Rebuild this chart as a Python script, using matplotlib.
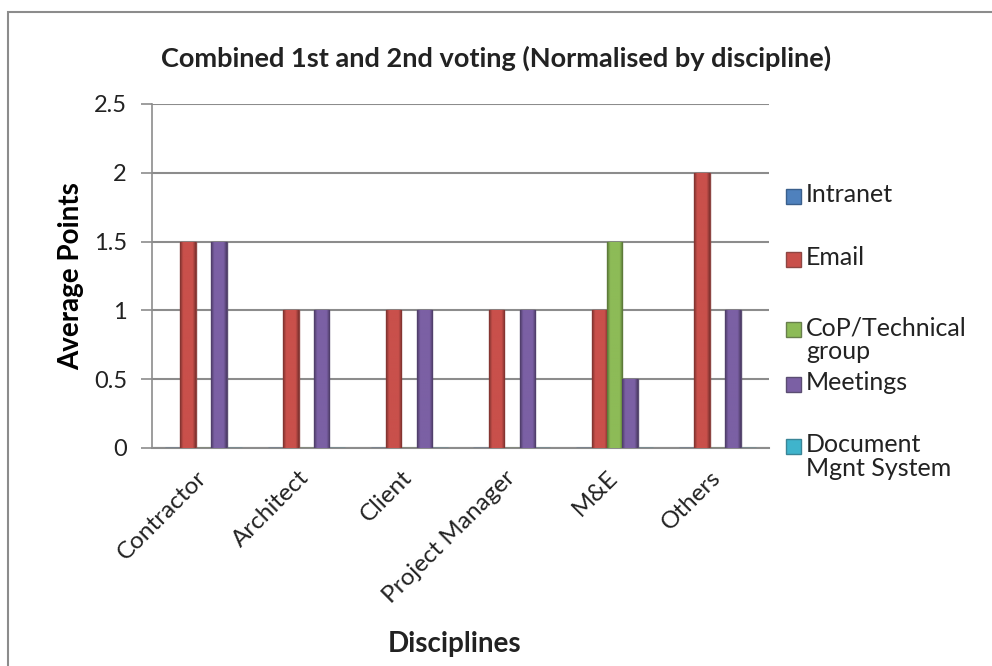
import numpy as np
import matplotlib
matplotlib.use("Agg")
import matplotlib.pyplot as plt
from matplotlib.colors import to_rgb
from matplotlib.patches import Rectangle
from matplotlib.transforms import ScaledTranslation

plt.rcParams['font.family'] = ['Lato', 'DejaVu Sans']

disciplines = ['Contractor', 'Architect', 'Client', 'Project Manager', 'M&E', 'Others']
series_names = ['Intranet', 'Email', 'CoP/Technical\ngroup', 'Meetings', 'Document\nMgnt System']
intranet = [0, 0, 0, 0, 0, 0]
email = [1.5, 1, 1, 1, 1, 2]
cop_group = [0, 0, 0, 0, 1.5, 0]
meetings = [1.5, 1, 1, 1, 0.5, 1]
doc_mgnt = [0, 0, 0, 0, 0, 0]
yticks = [0, 0.5, 1, 1.5, 2, 2.5]
ytick_labels = ['0', '0.5', '1', '1.5', '2', '2.5']

colors = ['#4F81BD', '#C9504B', '#8DBB57', '#7B60A4', '#3FB4CC']
edges = ['#3a5f8c', '#8e4643', '#687f4c', '#5b4d72', '#3a8597']


def shaded(color, n=40):
    # darker along both sides of the bar, flat in the middle
    t = np.linspace(0, 1, n)
    d = np.minimum(t, 1 - t)
    k = 0.62 + 0.38 * np.clip(d / 0.2, 0, 1)
    rgb = np.array(to_rgb(color))
    return (rgb[None, :] * k[:, None])[None, :, :]


fig = plt.figure(figsize=(9.92, 6.66), dpi=100)
fig.patch.set_facecolor('white')

# outer chart frame (runs off the right and bottom)
fig.patches.append(Rectangle((8 / 992, -0.05), 1.2, 1 - 12 / 666 + 0.05,
                             transform=fig.transFigure, fill=False,
                             edgecolor='#8c8c8c', linewidth=1.5))

ax = fig.add_axes([152 / 992, 1 - 448 / 666, (769 - 152) / 992, (448 - 104) / 666])

x = np.arange(len(disciplines))
width = 0.15
all_series = [intranet, email, cop_group, meetings, doc_mgnt]
for i, vals in enumerate(all_series):
    bars = ax.bar(x + (i - 2) * width + 0.5, vals, width, color=colors[i],
                  edgecolor=edges[i], linewidth=1.0, zorder=3)
    for b in bars:
        h = b.get_height()
        if h <= 0:
            continue
        x0 = b.get_x()
        img = ax.imshow(shaded(colors[i]), extent=[x0, x0 + b.get_width(), 0, h],
                        aspect='auto', zorder=3.5, interpolation='bilinear')
        img.set_clip_path(b)

ax.set_xlim(0, len(disciplines))
ax.set_ylim(0, 2.5)
ax.set_yticks(yticks)
ax.set_yticklabels(ytick_labels, fontsize=17, color='#222222')
ax.yaxis.grid(True, color='#8c8c8c', linewidth=1.5, zorder=0)
ax.tick_params(axis='y', length=8, width=1.2, color='#8c8c8c', pad=10)
ax.set_xticks(x + 0.5)
ax.set_xticklabels(disciplines, rotation=45, ha='right', rotation_mode='anchor',
                   fontsize=17.5, color='#222222')
ax.tick_params(axis='x', length=0, pad=12)
shift = ScaledTranslation(-8 / 100, -2 / 100, fig.dpi_scale_trans)
for lbl in ax.get_xticklabels():
    lbl.set_transform(lbl.get_transform() + shift)
for s in ['top', 'right']:
    ax.spines[s].set_visible(False)
ax.spines['left'].set_color('#8c8c8c')
ax.spines['left'].set_linewidth(1.2)
ax.spines['bottom'].set_color('#8c8c8c')
ax.spines['bottom'].set_linewidth(1.5)

ax.set_ylabel('Average Points', fontsize=20, fontweight='bold', labelpad=7)
fig.text(455 / 992, 1 - 652 / 666, 'Disciplines', fontsize=20, fontweight='bold',
         ha='center', va='baseline', color='#222222')
fig.text(496 / 992, 1 - 58 / 666,
         'Combined 1st and 2nd voting (Normalised by discipline)',
         fontsize=19.5, fontweight='bold', ha='center', va='center', color='#222222')

# legend entries on the right
legend_y = [197, 260, 330, 385, 447]
for name, col, ed, ly in zip(series_names, colors, edges, legend_y):
    fig.patches.append(Rectangle((786 / 992, 1 - (ly + 7) / 666), 15 / 992, 15 / 666,
                                 transform=fig.transFigure, facecolor=col,
                                 edgecolor=ed, linewidth=1))
    fig.text(806 / 992, 1 - (ly - 14) / 666, name, fontsize=18, ha='left', va='top',
             color='#222222', linespacing=1.05)

fig.savefig('out.png', dpi=100)
